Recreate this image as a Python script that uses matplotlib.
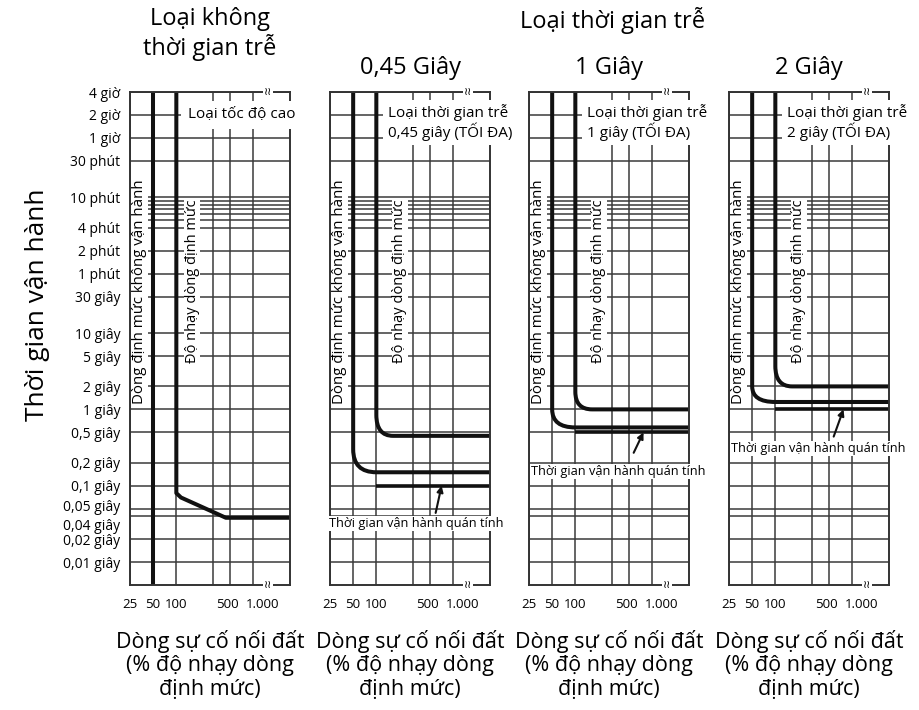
import matplotlib.pyplot as plt
import matplotlib.patches as mpatches
from matplotlib.path import Path
from matplotlib.ticker import NullFormatter
from matplotlib.transforms import ScaledTranslation

plt.rcParams['font.family'] = ['Open Sans', 'DejaVu Sans']

# truc thoi gian (giay) va nhan
time_ticks = [14400, 7200, 3600, 1800, 600, 240, 120, 60, 30, 10, 5, 2, 1,
              0.5, 0.2, 0.1, 0.05, 0.04, 0.02, 0.01]
time_labels = ['4 giờ', '2 giờ', '1 giờ', '30 phút', '10 phút', '4 phút',
               '2 phút', '1 phút', '30 giây', '10 giây', '5 giây', '2 giây',
               '1 giây', '0,5 giây', '0,2 giây', '0,1 giây', '0,05 giây',
               '0,04 giây', '0,02 giây', '0,01 giây']
time_minor = [540, 480, 420, 360, 300]

# truc dong (% do nhay)
current_ticks = [25, 50, 100, 500, 1000]
current_labels = ['25', '50', '100', '500', '1.000']
current_minor = [300]

# loai khong thoi gian tre
nodelay_nonop_x = [50, 50]
nodelay_nonop_t = [14400, 0.005]
nodelay_sens_x = [100, 100, 115, 290, 440, 3000]
nodelay_sens_t = [14400, 0.08, 0.07, 0.046, 0.038, 0.038]

# loai thoi gian tre: 0,45 / 1 / 2 giay
delay_titles = ['0,45 Giây', '1 Giây', '2 Giây']
delay_notes = ['0,45 giây (TỐI ĐA)', '1 giây (TỐI ĐA)', '2 giây (TỐI ĐA)']
sens_level = [0.45, 1.0, 2.0]
sens_bend_t = [0.85, 1.7, 3.7]
sens_bend_x = [165, 165, 165]
nonop_level = [0.15, 0.58, 1.25]
nonop_bend_t = [0.3, 1.0, 2.0]
nonop_bend_x = [100, 100, 100]
inertial_level = [0.1, 0.5, 1.0]
inertial_start = 100

W, H = 919, 710
panel_left = [130, 330, 529, 729]
ink = '#111111'
grid_c = '#3a3a3a'
curve_lw = 2.9

fig = plt.figure(figsize=(W / 100, H / 100), dpi=100)


def shift(label, dx, dy):
    label.set_transform(label.get_transform() +
                        ScaledTranslation(dx / 100, dy / 100, fig.dpi_scale_trans))


def setup(ax, show_y):
    ax.set_xscale('log')
    ax.set_yscale('log')
    ax.set_xlim(25, 3000)
    ax.set_ylim(0.005, 14400)
    ax.set_xticks(current_ticks)
    ax.set_xticklabels(current_labels)
    ax.set_xticks(current_minor, minor=True)
    ax.set_yticks(time_ticks)
    ax.set_yticklabels(time_labels if show_y else [])
    ax.set_yticks(time_minor, minor=True)
    ax.xaxis.set_minor_formatter(NullFormatter())
    ax.yaxis.set_minor_formatter(NullFormatter())
    ax.grid(True, which='both', color=grid_c, lw=1.1)
    ax.tick_params(which='both', length=0)
    ax.tick_params(axis='x', pad=9, labelsize=9.5)
    ax.tick_params(axis='y', pad=7, labelsize=10)
    for s in ax.spines.values():
        s.set_linewidth(1.4)
        s.set_color('#333333')
    for lab in ax.get_xticklabels():
        if lab.get_text() == '500':
            shift(lab, -3, 0)
        elif lab.get_text() == '1.000':
            shift(lab, 9, 0)
    for lab in ax.get_yticklabels():
        if lab.get_text() == '0,05 giây':
            shift(lab, 0, 3)
        elif lab.get_text() == '0,04 giây':
            shift(lab, 0, -8)
    # dau ngat truc
    for yy in [14400, 0.005]:
        ax.text(1550, yy, '\u2240\u2240', fontsize=8, ha='center', va='center',
                family=['DejaVu Sans'], clip_on=False, zorder=4,
                bbox=dict(fc='white', ec='none', pad=0.5))
    ax.text(33.6, 35, 'Dòng định mức không vận hành', rotation=90, fontsize=10.8,
            ha='center', va='center', zorder=3,
            bbox=dict(fc='white', ec='none', pad=0.6))


def bend(x0, t_start, x_end, level):
    verts = [(x0, 14400), (x0, t_start), (x0, level), (x_end, level), (3000, level)]
    codes = [Path.MOVETO, Path.LINETO, Path.CURVE3, Path.CURVE3, Path.LINETO]
    return mpatches.PathPatch(Path(verts, codes), fill=False, lw=curve_lw, ec=ink,
                              capstyle='butt', zorder=2)


axes = []
for i, left in enumerate(panel_left):
    ax = fig.add_axes([left / W, (H - 585) / H, 160 / W, 493 / H])
    setup(ax, i == 0)
    axes.append(ax)

# panel 1
ax = axes[0]
ax.plot(nodelay_nonop_x, nodelay_nonop_t, color=ink, lw=curve_lw, solid_capstyle='butt')
ax.plot(nodelay_sens_x, nodelay_sens_t, color=ink, lw=curve_lw, solid_capstyle='butt',
        solid_joinstyle='round')
ax.text(160, 48, 'Độ nhạy dòng định mức', rotation=90, fontsize=10.5, ha='center',
        va='center', zorder=3, bbox=dict(fc='white', ec='none', pad=0.6))
ax.text(140, 7200, 'Loại tốc độ cao', fontsize=11, ha='left', va='center',
        clip_on=False, zorder=3, bbox=dict(fc='white', ec='none', pad=5))

# panel 2-4
note_x = [335, 366, 366]
note_t = [0.0316, 0.152, 0.306]
tip_x = [705, 768, 768]
tail_x = [590, 573, 573]
tail_t = [0.044, 0.27, 0.44]
for i in range(3):
    ax = axes[i + 1]
    ax.add_patch(bend(50, nonop_bend_t[i], nonop_bend_x[i], nonop_level[i]))
    ax.add_patch(bend(100, sens_bend_t[i], sens_bend_x[i], sens_level[i]))
    ax.plot([inertial_start, 3000], [inertial_level[i]] * 2, color=ink, lw=2.6,
            solid_capstyle='butt')
    ax.text(203, 48, 'Độ nhạy dòng định mức', rotation=90, fontsize=10.5,
            ha='center', va='center', zorder=3,
            bbox=dict(fc='white', ec='none', pad=0.6))
    ax.text(140, 5800, 'Loại thời gian trễ\n' + delay_notes[i], fontsize=11,
            ha='left', va='center', linespacing=1.1, clip_on=False, zorder=3,
            bbox=dict(fc='white', ec='none', pad=3))
    ax.annotate('', xy=(tip_x[i], inertial_level[i]), xytext=(tail_x[i], tail_t[i]),
                arrowprops=dict(arrowstyle='-|>', color=ink, lw=1.5,
                                mutation_scale=9, shrinkA=0, shrinkB=0), zorder=4)
    ax.text(note_x[i], note_t[i], 'Thời gian vận hành quán tính', fontsize=9.2,
            ha='center', va='center', clip_on=False, zorder=3,
            bbox=dict(fc='white', ec='none', pad=0.6))

# tieu de
fig.text(210 / W, 1 - 34 / H, 'Loại không\nthời gian trễ', fontsize=17,
         ha='center', va='center', linespacing=1.15)
fig.text(613 / W, 1 - 20 / H, 'Loại thời gian trễ', fontsize=17,
         ha='center', va='center')
for i in range(3):
    fig.text((panel_left[i + 1] + 80) / W, 1 - 68 / H, delay_titles[i],
             fontsize=17, ha='center', va='center')

fig.text(38 / W, 1 - 305 / H, 'Thời gian vận hành', fontsize=19, rotation=90,
         ha='center', va='center')

for left in panel_left:
    fig.text((left + 80) / W, 1 - 665 / H,
             'Dòng sự cố nối đất\n(% độ nhạy dòng\nđịnh mức)', fontsize=15.5,
             ha='center', va='center', linespacing=1.15)

fig.savefig('out.png', dpi=100)
